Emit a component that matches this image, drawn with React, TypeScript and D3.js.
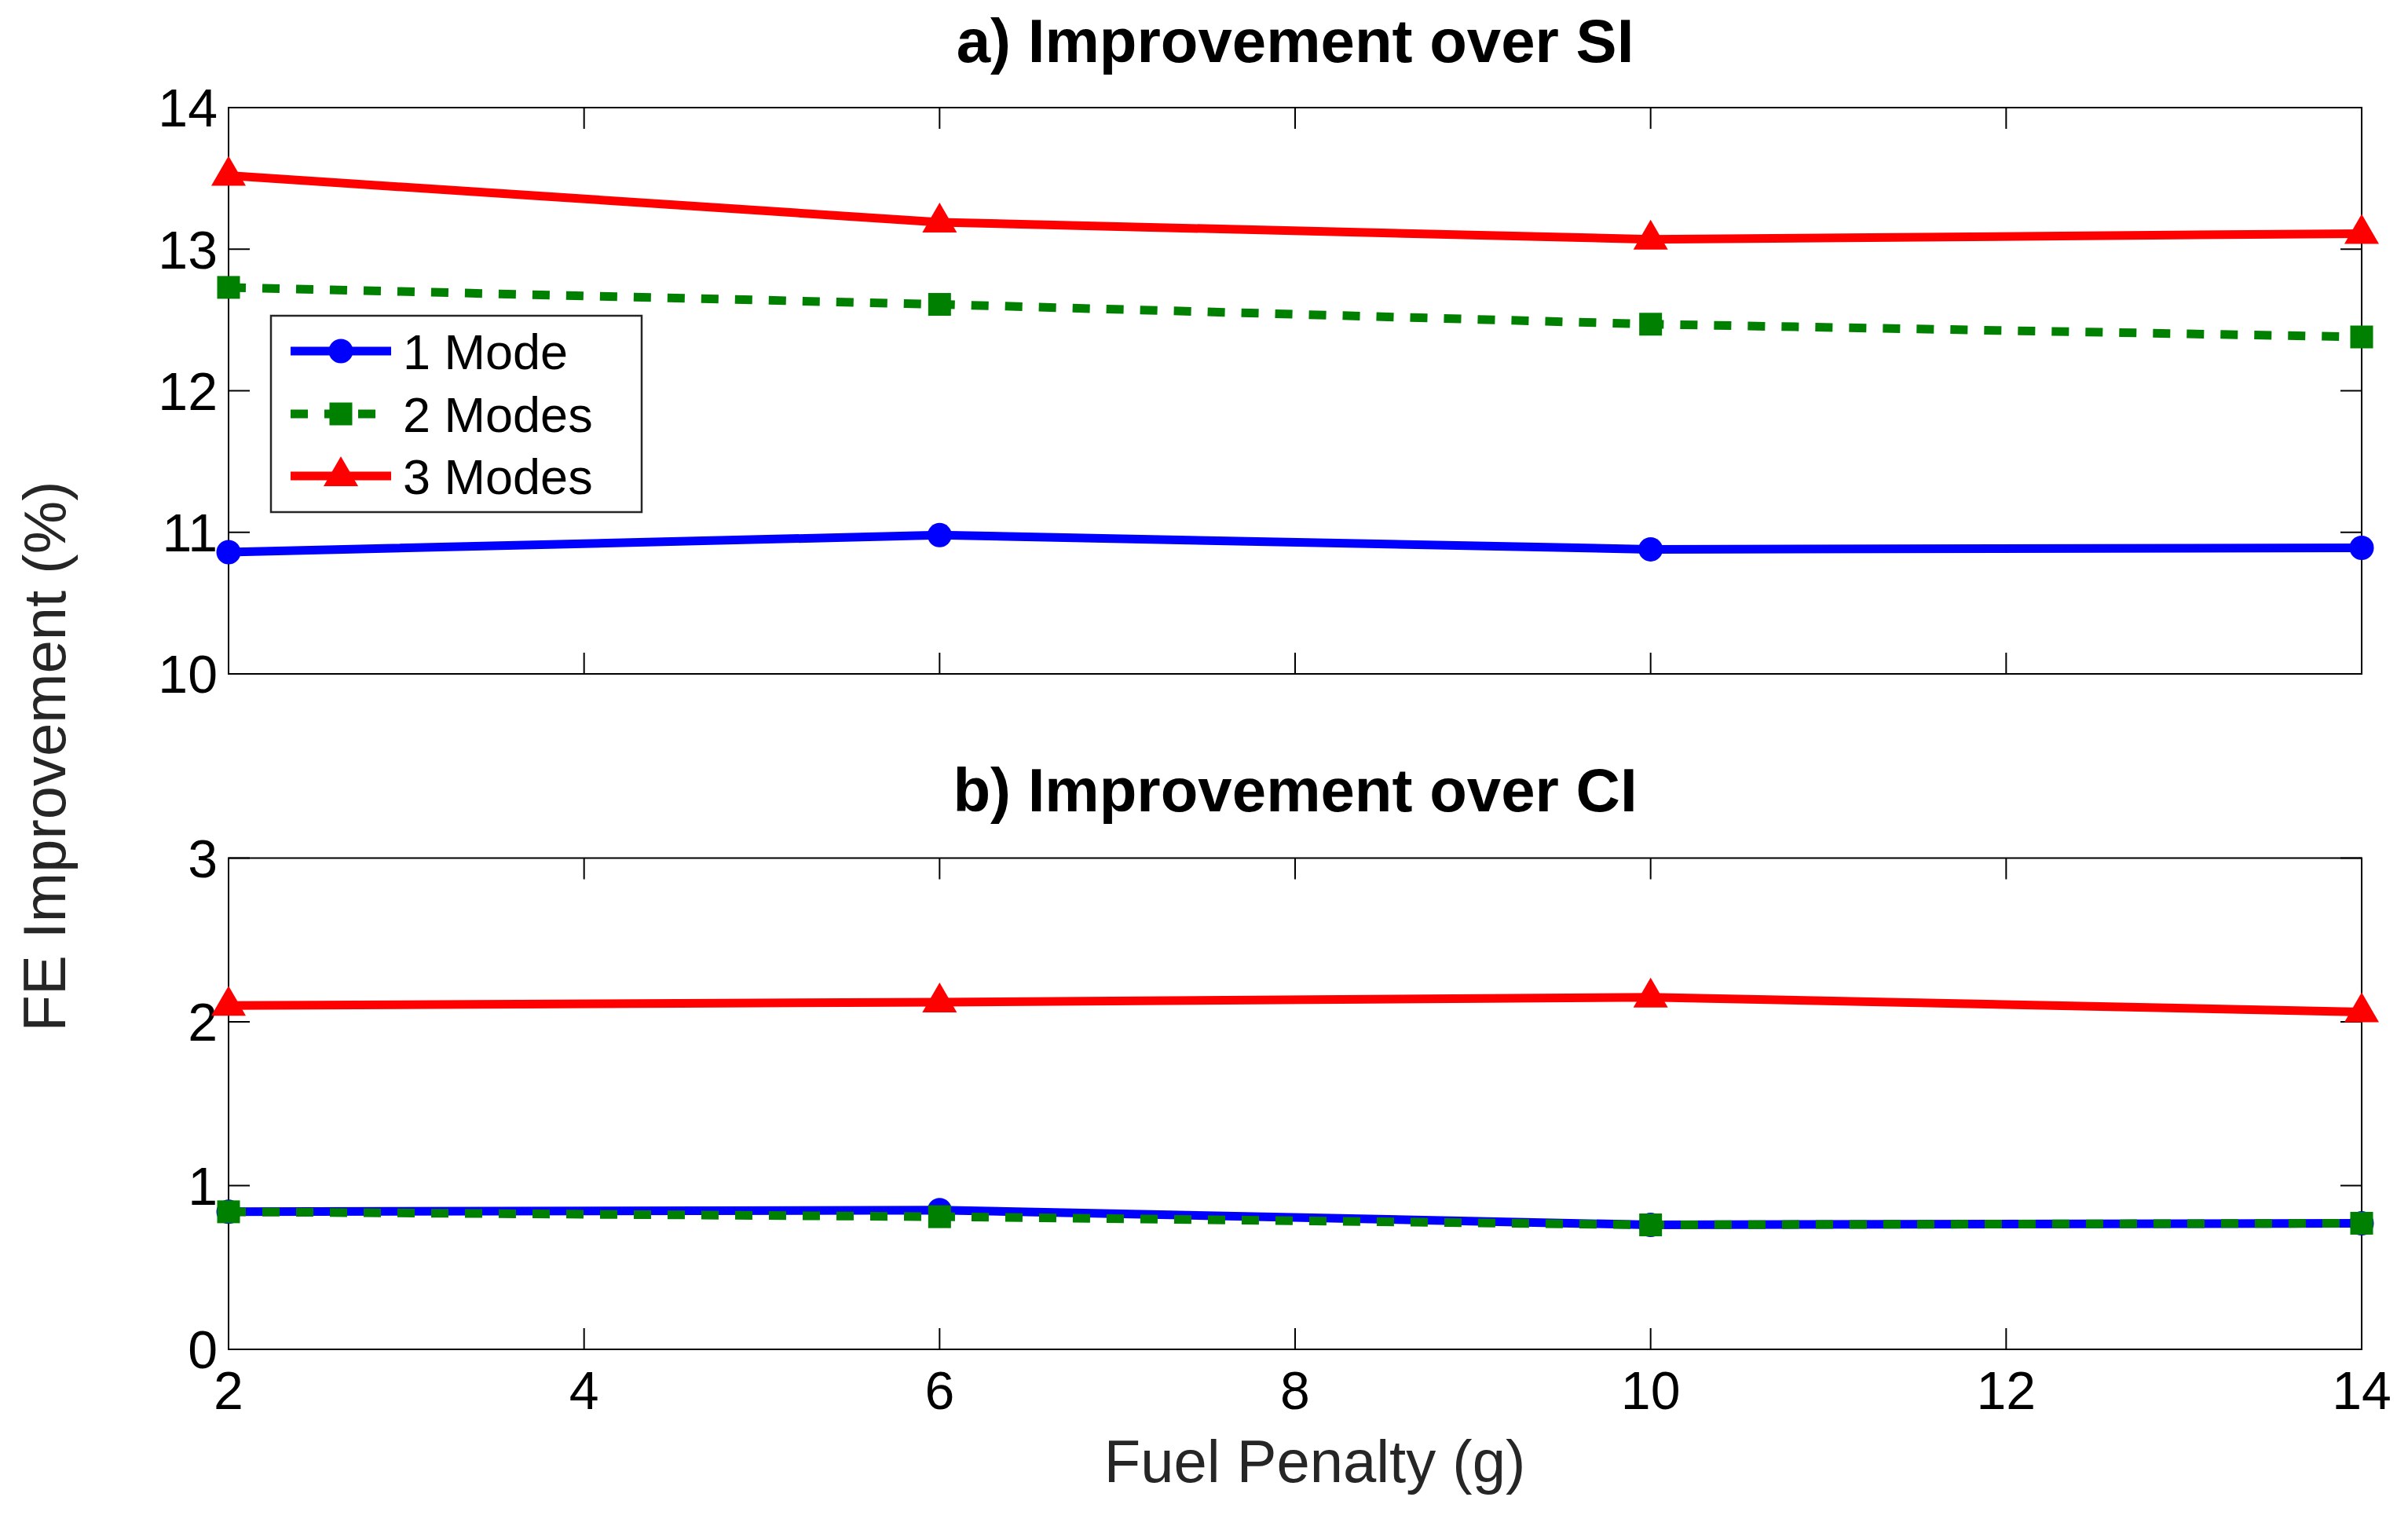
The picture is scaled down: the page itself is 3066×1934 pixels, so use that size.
import React, { useEffect, useRef } from "react";
import * as d3 from "d3";

// Fuel penalty values (x axis)
const penalties = [2, 6, 10, 14];
const xTickValues = [2, 4, 6, 8, 10, 12, 14];

// Panel a) improvement over SI (%)
const overSI_1Mode = [10.86, 10.98, 10.88, 10.89];
const overSI_2Modes = [12.73, 12.61, 12.47, 12.38];
const overSI_3Modes = [13.52, 13.19, 13.07, 13.11];
const overSITicks = [10, 11, 12, 13, 14];

// Panel b) improvement over CI (%)
const overCI_1Mode = [0.84, 0.85, 0.76, 0.77];
const overCI_2Modes = [0.84, 0.81, 0.76, 0.77];
const overCI_3Modes = [2.1, 2.12, 2.15, 2.06];
const overCITicks = [0, 1, 2, 3];

const seriesNames = ["1 Mode", "2 Modes", "3 Modes"];

type Marker = "circle" | "square" | "triangle";
const seriesStyle: { color: string; dash: string | null; marker: Marker }[] = [
  { color: "#0000ff", dash: null, marker: "circle" },
  { color: "#008000", dash: "22,21", marker: "square" },
  { color: "#ff0000", dash: null, marker: "triangle" },
];

const FONT = "'Liberation Sans', Arial, Helvetica, sans-serif";

const App: React.FC = () => {
  const svgRef = useRef<SVGSVGElement | null>(null);

  useEffect(() => {
    if (!svgRef.current) return;
    const svg = d3.select(svgRef.current);
    svg.selectAll("*").remove();

    const width = 3066;
    const height = 1934;
    svg.attr("width", width).attr("height", height);

    svg.append("rect").attr("width", width).attr("height", height).attr("fill", "#fff");

    const left = 291;
    const right = 3007;
    const xScale = d3.scaleLinear().domain([2, 14]).range([left, right]);

    const drawMarker = (
      g: d3.Selection<SVGGElement, unknown, null, undefined>,
      kind: Marker,
      cx: number,
      cy: number,
      color: string
    ) => {
      if (kind === "circle") {
        g.append("circle").attr("cx", cx).attr("cy", cy).attr("r", 15.5).attr("fill", color);
      } else if (kind === "square") {
        g.append("rect")
          .attr("x", cx - 14.5)
          .attr("y", cy - 14.5)
          .attr("width", 29)
          .attr("height", 29)
          .attr("fill", color);
      } else {
        g.append("path")
          .attr("d", `M${cx},${cy - 25}L${cx + 22},${cy + 13}L${cx - 22},${cy + 13}Z`)
          .attr("fill", color);
      }
    };

    const drawPanel = (
      top: number,
      bottom: number,
      domain: [number, number],
      yTicks: number[],
      series: number[][],
      title: string,
      titleBaseline: number,
      showXLabels: boolean
    ) => {
      const yScale = d3.scaleLinear().domain(domain).range([bottom, top]);
      const g = svg.append("g");

      // title
      g.append("text")
        .attr("x", (left + right) / 2)
        .attr("y", titleBaseline)
        .attr("text-anchor", "middle")
        .attr("font-family", FONT)
        .attr("font-weight", "bold")
        .attr("font-size", 78)
        .text(title);

      // box
      g.append("rect")
        .attr("x", left)
        .attr("y", top)
        .attr("width", right - left)
        .attr("height", bottom - top)
        .attr("fill", "none")
        .attr("stroke", "#000")
        .attr("stroke-width", 2);

      const tickLen = 27;
      // x ticks (inward, top and bottom)
      xTickValues.forEach((t) => {
        const x = xScale(t);
        g.append("line").attr("x1", x).attr("x2", x).attr("y1", bottom).attr("y2", bottom - tickLen)
          .attr("stroke", "#000").attr("stroke-width", 2);
        g.append("line").attr("x1", x).attr("x2", x).attr("y1", top).attr("y2", top + tickLen)
          .attr("stroke", "#000").attr("stroke-width", 2);
        if (showXLabels) {
          g.append("text")
            .attr("x", x)
            .attr("y", bottom + 76)
            .attr("text-anchor", "middle")
            .attr("font-family", FONT)
            .attr("font-size", 68)
            .text(t.toString());
        }
      });

      // y ticks (inward, left and right)
      yTicks.forEach((t) => {
        const y = yScale(t);
        g.append("line").attr("x1", left).attr("x2", left + tickLen).attr("y1", y).attr("y2", y)
          .attr("stroke", "#000").attr("stroke-width", 2);
        g.append("line").attr("x1", right).attr("x2", right - tickLen).attr("y1", y).attr("y2", y)
          .attr("stroke", "#000").attr("stroke-width", 2);
        g.append("text")
          .attr("x", left - 14)
          .attr("y", y)
          .attr("dy", "0.36em")
          .attr("text-anchor", "end")
          .attr("font-family", FONT)
          .attr("font-size", 68)
          .text(t.toString());
      });

      // series
      const line = d3
        .line<number>()
        .x((_, i) => xScale(penalties[i]))
        .y((d) => yScale(d));

      series.forEach((vals, si) => {
        const st = seriesStyle[si];
        const sg = g.append("g");
        const path = sg
          .append("path")
          .datum(vals)
          .attr("fill", "none")
          .attr("stroke", st.color)
          .attr("stroke-width", 11)
          .attr("d", line);
        if (st.dash) path.attr("stroke-dasharray", st.dash);
        vals.forEach((v, i) => drawMarker(sg, st.marker, xScale(penalties[i]), yScale(v), st.color));
      });

      return g;
    };

    const panelA = drawPanel(
      137,
      858,
      [10, 14],
      overSITicks,
      [overSI_1Mode, overSI_2Modes, overSI_3Modes],
      "a) Improvement over SI",
      79,
      false
    );

    drawPanel(
      1092.5,
      1718,
      [0, 3],
      overCITicks,
      [overCI_1Mode, overCI_2Modes, overCI_3Modes],
      "b) Improvement over CI",
      1033,
      true
    );

    // legend in panel a
    const lg = panelA.append("g");
    lg.append("rect")
      .attr("x", 345)
      .attr("y", 402)
      .attr("width", 472)
      .attr("height", 250)
      .attr("fill", "#fff")
      .attr("stroke", "#262626")
      .attr("stroke-width", 2.5);
    const rowY = [447, 527, 606];
    seriesNames.forEach((name, i) => {
      const st = seriesStyle[i];
      const y = rowY[i];
      const l = lg.append("line")
        .attr("x1", 370)
        .attr("x2", 498)
        .attr("y1", y)
        .attr("y2", y)
        .attr("stroke", st.color)
        .attr("stroke-width", 11);
      if (st.dash) l.attr("stroke-dasharray", st.dash);
      drawMarker(lg, st.marker, 434, y, st.color);
      lg.append("text")
        .attr("x", 513)
        .attr("y", y + 23)
        .attr("font-family", FONT)
        .attr("font-size", 63)
        .text(name);
    });

    // axis labels
    svg.append("text")
      .attr("transform", `translate(83, 963) rotate(-90)`)
      .attr("text-anchor", "middle")
      .attr("font-family", FONT)
      .attr("font-size", 76)
      .attr("fill", "#262626")
      .text("FE Improvement (%)");

    svg.append("text")
      .attr("x", 1674)
      .attr("y", 1887)
      .attr("text-anchor", "middle")
      .attr("font-family", FONT)
      .attr("font-size", 76)
      .attr("fill", "#262626")
      .text("Fuel Penalty (g)");
  }, []);

  return (
    <div style={{ position: "absolute", left: 0, top: 0 }}>
      <svg ref={svgRef} style={{ display: "block" }} />
    </div>
  );
};

export default App;
